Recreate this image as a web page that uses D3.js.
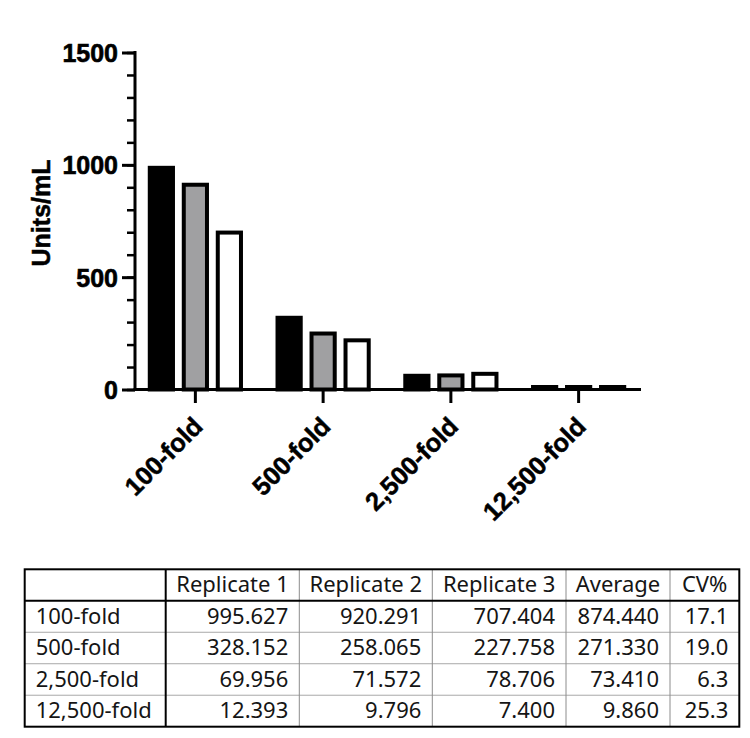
<!DOCTYPE html>
<html>
<head>
<meta charset="utf-8">
<script src="https://cdn.jsdelivr.net/npm/d3@7"></script>
<style>
  html, body { margin: 0; padding: 0; background: #fff; }
  svg { display: block; }
</style>
</head>
<body>
<script>
// chart data
const categories = ['100-fold', '500-fold', '2,500-fold', '12,500-fold'];
const seriesNames = ['Replicate 1', 'Replicate 2', 'Replicate 3'];
const replicate1 = [995.627, 328.152, 69.956, 12.393];
const replicate2 = [920.291, 258.065, 71.572, 9.796];
const replicate3 = [707.404, 227.758, 78.706, 7.400];
const average = [874.440, 271.330, 73.410, 9.860];
const cvPercent = [17.1, 19.0, 6.3, 25.3];
const yTicks = [0, 500, 1000, 1500];
const tableHeaders = ['', 'Replicate 1', 'Replicate 2', 'Replicate 3', 'Average', 'CV%'];

const fills = ['#000', '#a0a0a2', '#fff'];
const width = 750, height = 738;

const svg = d3.select('body').append('svg')
    .attr('width', width).attr('height', height)
    .attr('xmlns', 'http://www.w3.org/2000/svg');

const axisFont = '"Liberation Sans", Arial, sans-serif';

const y = d3.scaleLinear().domain([0, 1500]).range([389.5, 52.5]);
const x = d3.scaleBand().domain(categories).range([131.5, 642.5]);
const xInner = d3.scaleBand().domain(seriesNames).range([-51, 51])
    .paddingInner(0.2).paddingOuter(0.1);

const values = [replicate1, replicate2, replicate3];

// bars
const groups = svg.append('g').selectAll('g')
    .data(categories)
    .join('g')
    .attr('transform', d => `translate(${x(d) + x.bandwidth() / 2},0)`);

groups.selectAll('rect')
    .data((d, i) => seriesNames.map((s, j) => ({ s, j, v: values[j][i] })))
    .join('rect')
    .attr('x', d => xInner(d.s) + 2)
    .attr('width', xInner.bandwidth() - 4)
    .attr('y', d => Math.min(y(d.v) + 2, y(0) - 2.5))
    .attr('height', d => Math.max(0.5, y(0) - y(d.v) - 2))
    .attr('fill', d => fills[d.j])
    .attr('stroke', '#000')
    .attr('stroke-width', 4);

// y axis
const yAxis = svg.append('g').attr('transform', 'translate(135,0)');
yAxis.call(d3.axisLeft(y).tickValues(d3.range(0, 1501, 100)).tickSize(8).tickFormat(''))
    .call(g => g.select('.domain').remove())
    .selectAll('line').attr('stroke', '#000').attr('stroke-width', 2.5);
yAxis.append('g')
    .call(d3.axisLeft(y).tickValues(yTicks).tickSize(13).tickPadding(4).tickFormat(d3.format('d')))
    .call(g => g.select('.domain').remove())
    .call(g => g.selectAll('line').attr('stroke', '#000').attr('stroke-width', 3))
    .call(g => g.selectAll('text')
        .attr('font-family', axisFont).attr('font-weight', 'bold')
        .attr('font-size', 25).attr('fill', '#000').attr('dy', '0.36em')
        .attr('stroke', '#000').attr('stroke-width', 0.6));
yAxis.append('line')
    .attr('x1', 0).attr('x2', 0)
    .attr('y1', y(1500) - 1.5).attr('y2', y(0) + 1.5)
    .attr('stroke', '#000').attr('stroke-width', 3);

svg.append('text')
    .attr('transform', 'translate(50,213) rotate(-90)')
    .attr('text-anchor', 'middle')
    .attr('font-family', axisFont).attr('font-weight', 'bold')
    .attr('font-size', 25).attr('fill', '#000')
    .attr('stroke', '#000').attr('stroke-width', 0.5)
    .text('Units/mL');

// x axis
svg.append('line')
    .attr('x1', 133.5).attr('x2', 641)
    .attr('y1', y(0)).attr('y2', y(0))
    .attr('stroke', '#000').attr('stroke-width', 3);

const xAxis = svg.append('g').selectAll('g')
    .data(categories)
    .join('g')
    .attr('transform', d => `translate(${x(d) + x.bandwidth() / 2},0)`);
xAxis.append('line')
    .attr('y1', y(0)).attr('y2', y(0) + 13.5)
    .attr('stroke', '#000').attr('stroke-width', 3);
xAxis.append('text')
    .attr('transform', 'translate(9,428) rotate(-45)')
    .attr('text-anchor', 'end')
    .attr('font-family', axisFont).attr('font-weight', 'bold')
    .attr('font-size', 25.5).attr('fill', '#000')
    .attr('stroke', '#000').attr('stroke-width', 0.5)
    .text(d => d);

// table
const colEdges = [24.7, 165.7, 299.3, 432.3, 566, 670, 739.3];
const rowY = d3.scaleBand().domain(d3.range(5)).range([569.3, 726.7]);
const fmt3 = d3.format('.3f'), fmt1 = d3.format('.1f');

const rows = [tableHeaders].concat(categories.map((c, i) => [
    c, fmt3(replicate1[i]), fmt3(replicate2[i]), fmt3(replicate3[i]),
    fmt3(average[i]), fmt1(cvPercent[i])
]));

const table = svg.append('g')
    .attr('font-family', '"Noto Sans", "Open Sans", sans-serif')
    .attr('font-size', 22).attr('fill', '#151515');

// inner grid lines
table.selectAll('.hline')
    .data(d3.range(2, 5))
    .join('line')
    .attr('x1', colEdges[0]).attr('x2', colEdges[6])
    .attr('y1', d => rowY(d)).attr('y2', d => rowY(d))
    .attr('stroke', '#a8a8a8').attr('stroke-width', 1);
table.selectAll('.vline')
    .data(d3.range(2, 6))
    .join('line')
    .attr('x1', d => colEdges[d]).attr('x2', d => colEdges[d])
    .attr('y1', rowY(0)).attr('y2', rowY(4) + rowY.bandwidth())
    .attr('stroke', '#8c8c8c').attr('stroke-width', 1);

// heavy lines
table.append('line')
    .attr('x1', colEdges[0]).attr('x2', colEdges[6])
    .attr('y1', rowY(1)).attr('y2', rowY(1))
    .attr('stroke', '#000').attr('stroke-width', 2);
table.append('line')
    .attr('x1', colEdges[1]).attr('x2', colEdges[1])
    .attr('y1', rowY(0)).attr('y2', rowY(4) + rowY.bandwidth())
    .attr('stroke', '#000').attr('stroke-width', 2);
table.append('rect')
    .attr('x', colEdges[0]).attr('y', rowY(0))
    .attr('width', colEdges[6] - colEdges[0])
    .attr('height', rowY(4) + rowY.bandwidth() - rowY(0))
    .attr('fill', 'none').attr('stroke', '#000').attr('stroke-width', 2);

rows.forEach((r, ri) => {
    r.forEach((cell, ci) => {
        if (!cell) return;
        let tx, anchor;
        if (ri === 0) { tx = (colEdges[ci] + colEdges[ci + 1]) / 2; anchor = 'middle'; }
        else if (ci === 0) { tx = colEdges[0] + 11; anchor = 'start'; }
        else { tx = colEdges[ci + 1] - 11; anchor = 'end'; }
        table.append('text')
            .attr('x', tx)
            .attr('y', rowY(ri) + rowY.bandwidth() - 8.5)
            .attr('text-anchor', anchor)
            .text(cell);
    });
});
</script>
</body>
</html>
